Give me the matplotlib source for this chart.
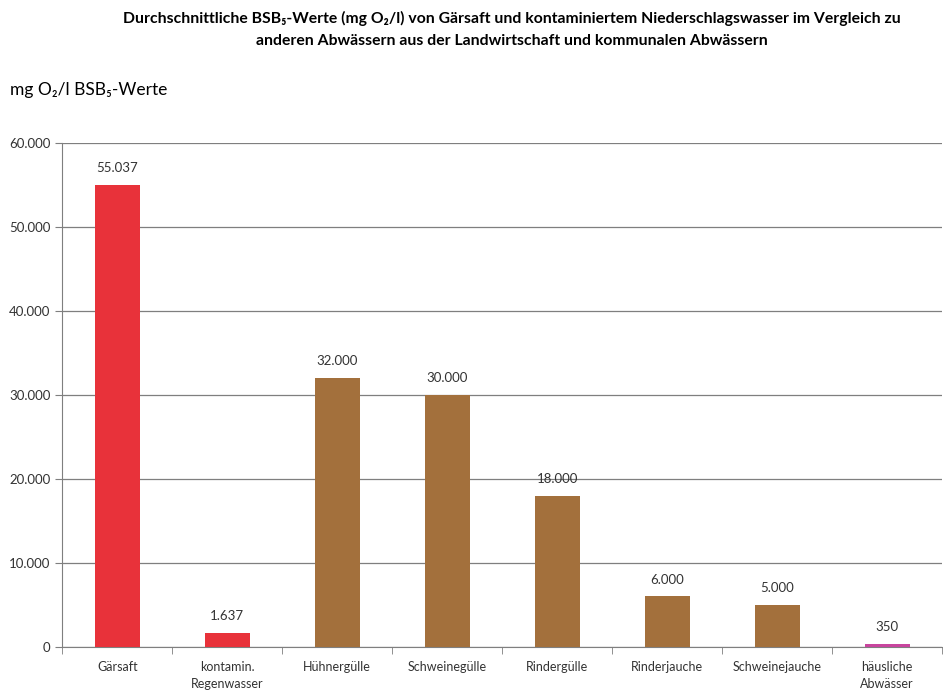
import matplotlib
matplotlib.use('Agg')
import matplotlib.pyplot as plt
from matplotlib.ticker import FuncFormatter, FixedLocator
import numpy as np

plt.rcParams['font.family'] = ['Lato', 'DejaVu Sans']

categories = ['Gärsaft', 'kontamin.\nRegenwasser', 'Hühnergülle', 'Schweinegülle',
              'Rindergülle', 'Rinderjauche', 'Schweinejauche', 'häusliche\nAbwässer']
values = [55037, 1637, 32000, 30000, 18000, 6000, 5000, 350]
bar_colors = ['#e8323a', '#e8323a', '#a3703c', '#a3703c', '#a3703c',
              '#a3703c', '#a3703c', '#c8459e']
value_labels = ['55.037', '1.637', '32.000', '30.000', '18.000', '6.000', '5.000', '350']


def dotted(v, pos=None):
    return f'{int(v):,}'.replace(',', '.')


fig = plt.figure(figsize=(9.43, 6.97), dpi=100)
ax = fig.add_axes([0.066, 0.072, 0.933, 0.723])

x = np.arange(len(categories))
ax.bar(x, values, width=0.41, color=bar_colors, zorder=3)
for xi, v, lab in zip(x, values, value_labels):
    ax.text(xi, v + 1300, lab, ha='center', va='bottom', fontsize=9.5, color='#333333')

ax.set_xlim(-0.5, len(categories) - 0.5)
ax.set_ylim(0, 60000)
ax.set_yticks(np.arange(0, 60001, 10000))
ax.yaxis.set_major_formatter(FuncFormatter(dotted))
ax.grid(axis='y', color='#7f7f7f', linewidth=0.9, zorder=0)

ax.set_xticks(x)
ax.set_xticklabels(categories, fontsize=9, color='#333333', linespacing=1.5)
ax.tick_params(axis='x', length=0, pad=10)
ax.xaxis.set_minor_locator(FixedLocator(np.arange(-0.5, len(categories), 1.0)))
ax.tick_params(axis='x', which='minor', length=5, color='#7f7f7f')
ax.tick_params(axis='y', length=5, color='#7f7f7f', labelsize=9.5, labelcolor='#333333')

for s in ['top', 'right']:
    ax.spines[s].set_visible(False)
ax.spines['left'].set_color('#7f7f7f')
ax.spines['bottom'].set_color('#7f7f7f')

fig.text(0.543, 0.985, 'Durchschnittliche BSB₅-Werte (mg O₂/l) von Gärsaft und kontaminiertem '
         'Niederschlagswasser im Vergleich zu\nanderen Abwässern aus der Landwirtschaft und '
         'kommunalen Abwässern',
         ha='center', va='top', fontsize=11.3, fontweight='bold', linespacing=1.75)
fig.text(0.011, 0.871, 'mg O₂/l BSB₅-Werte', ha='left', va='center', fontsize=12.5)

fig.savefig('out.png', dpi=100)
